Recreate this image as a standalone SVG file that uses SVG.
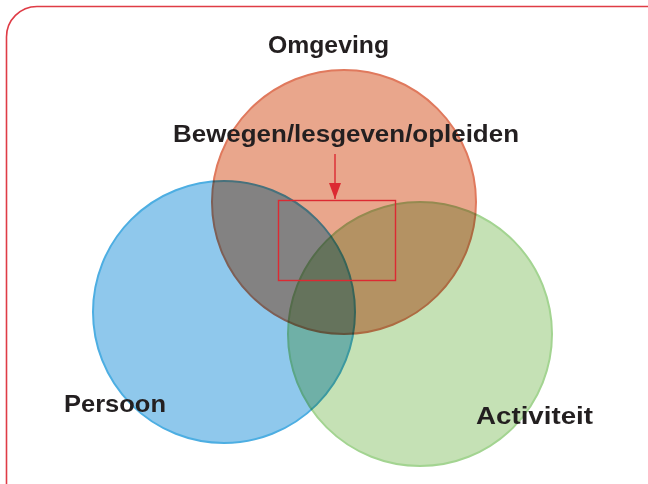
<svg xmlns="http://www.w3.org/2000/svg" width="648" height="484" viewBox="0 0 648 484">
  <defs>
    <style>
      .lbl { font-family: "Liberation Sans", Arial, sans-serif; font-weight: bold; font-size: 23px; fill: #231f20; }
      .node { mix-blend-mode: multiply; }
      .circ { stroke-width: 2; }
      .red { stroke: #dc2a32; stroke-width: 1.4; }
    </style>
    <marker id="arrowhead" viewBox="0 0 16 12" refX="16" refY="6" markerWidth="16" markerHeight="12" markerUnits="userSpaceOnUse" orient="auto">
      <path d="M0,0 L16,6 L0,12 Z" fill="#dc2a32"/>
    </marker>
  </defs>
  <rect width="648" height="484" fill="#ffffff"/>
  <path d="M6.5,484 V37 A30.5,30.5 0 0 1 37,6.5 H648" fill="none" stroke="#df3c46" stroke-width="1.6"/>

  <g id="persoon" class="node">
    <circle class="circ" cx="224" cy="312" r="131" fill="#8fc8ec" stroke="#4daee2"/>
    <text class="lbl" x="64" y="412" textLength="102" lengthAdjust="spacingAndGlyphs">Persoon</text>
  </g>
  <g id="omgeving" class="node">
    <circle class="circ" cx="344" cy="202" r="132" fill="#e9a68c" stroke="#e0795d"/>
    <text class="lbl" x="268" y="53" textLength="121" lengthAdjust="spacingAndGlyphs">Omgeving</text>
  </g>
  <g id="activiteit" class="node">
    <circle class="circ" cx="420" cy="334" r="132" fill="#c5e1b5" stroke="#a3d491"/>
    <text class="lbl" x="476" y="424" textLength="117" lengthAdjust="spacingAndGlyphs">Activiteit</text>
  </g>

  <g id="bewegen">
    <text class="lbl" x="173" y="142" textLength="346" lengthAdjust="spacingAndGlyphs">Bewegen/lesgeven/opleiden</text>
    <rect class="red" x="278.5" y="200.5" width="117" height="80" fill="none"/>
  </g>

  <g id="connectors">
    <line class="red" x1="335" y1="154" x2="335" y2="199" marker-end="url(#arrowhead)"/>
  </g>
</svg>
